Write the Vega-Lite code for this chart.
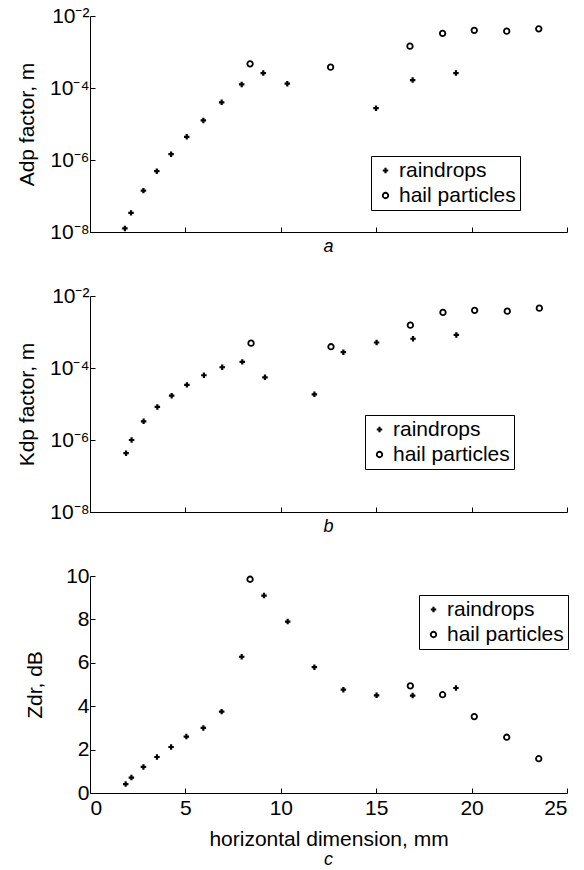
{
  "$schema": "https://vega.github.io/schema/vega-lite/v6.json",
  "padding": {"left": 16, "top": 5, "right": 0, "bottom": 0},
  "background": "white",
  "config": {
    "view": {"stroke": null},
    "font": "Liberation Sans",
    "axis": {"grid": false, "domainColor": "black", "tickColor": "black", "labelColor": "black", "titleColor": "black", "labelFontSize": 21, "titleFontSize": 21, "titleFontWeight": "normal", "tickSize": -5, "labelPadding": 6, "domainWidth": 1, "tickWidth": 1},
    "title": {"fontStyle": "italic", "fontWeight": "normal", "fontSize": 18, "orient": "bottom", "color": "black", "anchor": "middle"},
    "legend": {"orient": "none", "title": null, "strokeColor": "black", "fillColor": "white", "padding": 4, "labelFontSize": 21, "labelColor": "black", "rowPadding": 3, "labelOffset": 3, "symbolSize": 30},
    "concat": {"spacing": 29}
  },
  "datasets": {
    "a": [
      {"d": 1.83, "v": 1.26e-8, "type": "raindrops"},
      {"d": 2.15, "v": 3.4e-8, "type": "raindrops"},
      {"d": 2.8, "v": 1.41e-7, "type": "raindrops"},
      {"d": 3.5, "v": 4.9e-7, "type": "raindrops"},
      {"d": 4.25, "v": 1.45e-6, "type": "raindrops"},
      {"d": 5.07, "v": 4.4e-6, "type": "raindrops"},
      {"d": 5.94, "v": 1.26e-5, "type": "raindrops"},
      {"d": 6.9, "v": 4.0e-5, "type": "raindrops"},
      {"d": 7.95, "v": 1.26e-4, "type": "raindrops"},
      {"d": 9.08, "v": 2.6e-4, "type": "raindrops"},
      {"d": 10.34, "v": 1.32e-4, "type": "raindrops"},
      {"d": 14.99, "v": 2.75e-5, "type": "raindrops"},
      {"d": 16.91, "v": 1.66e-4, "type": "raindrops"},
      {"d": 19.18, "v": 2.6e-4, "type": "raindrops"},
      {"d": 8.39, "v": 4.7e-4, "type": "hail particles"},
      {"d": 12.61, "v": 3.8e-4, "type": "hail particles"},
      {"d": 16.77, "v": 1.45e-3, "type": "hail particles"},
      {"d": 18.48, "v": 3.3e-3, "type": "hail particles"},
      {"d": 20.14, "v": 4.0e-3, "type": "hail particles"},
      {"d": 21.84, "v": 3.8e-3, "type": "hail particles"},
      {"d": 23.52, "v": 4.4e-3, "type": "hail particles"}
    ],
    "b": [
      {"d": 1.89, "v": 4.3e-7, "type": "raindrops"},
      {"d": 2.18, "v": 1.0e-6, "type": "raindrops"},
      {"d": 2.81, "v": 3.3e-6, "type": "raindrops"},
      {"d": 3.53, "v": 8.3e-6, "type": "raindrops"},
      {"d": 4.28, "v": 1.7e-5, "type": "raindrops"},
      {"d": 5.08, "v": 3.4e-5, "type": "raindrops"},
      {"d": 5.97, "v": 6.3e-5, "type": "raindrops"},
      {"d": 6.93, "v": 1.05e-4, "type": "raindrops"},
      {"d": 7.98, "v": 1.48e-4, "type": "raindrops"},
      {"d": 9.17, "v": 5.5e-5, "type": "raindrops"},
      {"d": 11.76, "v": 1.86e-5, "type": "raindrops"},
      {"d": 13.28, "v": 2.75e-4, "type": "raindrops"},
      {"d": 15.02, "v": 5.1e-4, "type": "raindrops"},
      {"d": 16.93, "v": 6.5e-4, "type": "raindrops"},
      {"d": 19.2, "v": 8.3e-4, "type": "raindrops"},
      {"d": 8.44, "v": 4.9e-4, "type": "hail particles"},
      {"d": 12.63, "v": 3.9e-4, "type": "hail particles"},
      {"d": 16.79, "v": 1.55e-3, "type": "hail particles"},
      {"d": 18.5, "v": 3.5e-3, "type": "hail particles"},
      {"d": 20.16, "v": 4.0e-3, "type": "hail particles"},
      {"d": 21.87, "v": 3.8e-3, "type": "hail particles"},
      {"d": 23.55, "v": 4.6e-3, "type": "hail particles"}
    ],
    "c": [
      {"d": 1.87, "v": 0.41, "type": "raindrops"},
      {"d": 2.17, "v": 0.71, "type": "raindrops"},
      {"d": 2.8, "v": 1.2, "type": "raindrops"},
      {"d": 3.51, "v": 1.66, "type": "raindrops"},
      {"d": 4.25, "v": 2.12, "type": "raindrops"},
      {"d": 5.05, "v": 2.6, "type": "raindrops"},
      {"d": 5.94, "v": 3.0, "type": "raindrops"},
      {"d": 6.9, "v": 3.75, "type": "raindrops"},
      {"d": 7.95, "v": 6.28, "type": "raindrops"},
      {"d": 9.12, "v": 9.1, "type": "raindrops"},
      {"d": 10.36, "v": 7.9, "type": "raindrops"},
      {"d": 11.76, "v": 5.8, "type": "raindrops"},
      {"d": 13.28, "v": 4.76, "type": "raindrops"},
      {"d": 15.02, "v": 4.5, "type": "raindrops"},
      {"d": 16.91, "v": 4.49, "type": "raindrops"},
      {"d": 19.18, "v": 4.84, "type": "raindrops"},
      {"d": 8.39, "v": 9.85, "type": "hail particles"},
      {"d": 16.79, "v": 4.94, "type": "hail particles"},
      {"d": 18.48, "v": 4.53, "type": "hail particles"},
      {"d": 20.14, "v": 3.52, "type": "hail particles"},
      {"d": 21.84, "v": 2.57, "type": "hail particles"},
      {"d": 23.52, "v": 1.58, "type": "hail particles"}
    ]
  },
  "resolve": {
    "scale": {"shape": "independent", "fill": "independent", "strokeWidth": "independent"},
    "legend": {"shape": "independent", "fill": "independent", "strokeWidth": "independent"}
  },
  "vconcat": [
    {
      "width": 477, "height": 216,
      "data": {"name": "a"},
      "title": {"text": "a", "offset": -4},
      "mark": {"type": "point", "filled": true, "stroke": "black", "opacity": 1, "size": 30},
      "encoding": {
        "x": {"field": "d", "type": "quantitative", "scale": {"domain": [0, 25], "nice": false}, "axis": {"values": [0, 5, 10, 15, 20, 25], "labels": false, "title": null}},
        "y": {"field": "v", "type": "quantitative", "scale": {"type": "log", "domain": [1e-8, 1e-2], "nice": false}, "axis": {"values": [1e-8, 1e-6, 1e-4, 1e-2], "labelExpr": "datum.value < 5e-8 ? '10⁻⁸' : datum.value < 5e-6 ? '10⁻⁶' : datum.value < 5e-4 ? '10⁻⁴' : '10⁻²'", "title": "Adp factor, m", "titlePadding": 12}},
        "shape": {"field": "type", "type": "nominal", "scale": {"domain": ["raindrops", "hail particles"], "range": ["cross", "circle"]}, "legend": {"legendX": 281, "legendY": 140}},
        "fill": {"field": "type", "type": "nominal", "scale": {"domain": ["raindrops", "hail particles"], "range": ["black", "white"]}},
        "strokeWidth": {"field": "type", "type": "nominal", "scale": {"domain": ["raindrops", "hail particles"], "range": [0, 1.8]}}
      }
    },
    {
      "width": 477, "height": 216,
      "data": {"name": "b"},
      "title": {"text": "b", "offset": -4},
      "mark": {"type": "point", "filled": true, "stroke": "black", "opacity": 1, "size": 30},
      "encoding": {
        "x": {"field": "d", "type": "quantitative", "scale": {"domain": [0, 25], "nice": false}, "axis": {"values": [0, 5, 10, 15, 20, 25], "labels": false, "title": null}},
        "y": {"field": "v", "type": "quantitative", "scale": {"type": "log", "domain": [1e-8, 1e-2], "nice": false}, "axis": {"values": [1e-8, 1e-6, 1e-4, 1e-2], "labelExpr": "datum.value < 5e-8 ? '10⁻⁸' : datum.value < 5e-6 ? '10⁻⁶' : datum.value < 5e-4 ? '10⁻⁴' : '10⁻²'", "title": "Kdp factor, m", "titlePadding": 12}},
        "shape": {"field": "type", "type": "nominal", "scale": {"domain": ["raindrops", "hail particles"], "range": ["cross", "circle"]}, "legend": {"legendX": 275, "legendY": 119}},
        "fill": {"field": "type", "type": "nominal", "scale": {"domain": ["raindrops", "hail particles"], "range": ["black", "white"]}},
        "strokeWidth": {"field": "type", "type": "nominal", "scale": {"domain": ["raindrops", "hail particles"], "range": [0, 1.8]}}
      }
    },
    {
      "width": 477, "height": 217,
      "data": {"name": "c"},
      "title": {"text": "c", "offset": 2},
      "mark": {"type": "point", "filled": true, "stroke": "black", "opacity": 1, "size": 30},
      "encoding": {
        "x": {"field": "d", "type": "quantitative", "scale": {"domain": [0, 25], "nice": false}, "axis": {"values": [0, 5, 10, 15, 20, 25], "title": "horizontal dimension, mm", "labelPadding": 9, "titlePadding": 10}},
        "y": {"field": "v", "type": "quantitative", "scale": {"domain": [0, 10], "nice": false}, "axis": {"values": [0, 2, 4, 6, 8, 10], "title": "Zdr, dB", "titlePadding": 20}},
        "shape": {"field": "type", "type": "nominal", "scale": {"domain": ["raindrops", "hail particles"], "range": ["cross", "circle"]}, "legend": {"legendX": 329, "legendY": 19}},
        "fill": {"field": "type", "type": "nominal", "scale": {"domain": ["raindrops", "hail particles"], "range": ["black", "white"]}},
        "strokeWidth": {"field": "type", "type": "nominal", "scale": {"domain": ["raindrops", "hail particles"], "range": [0, 1.8]}}
      }
    }
  ]
}
